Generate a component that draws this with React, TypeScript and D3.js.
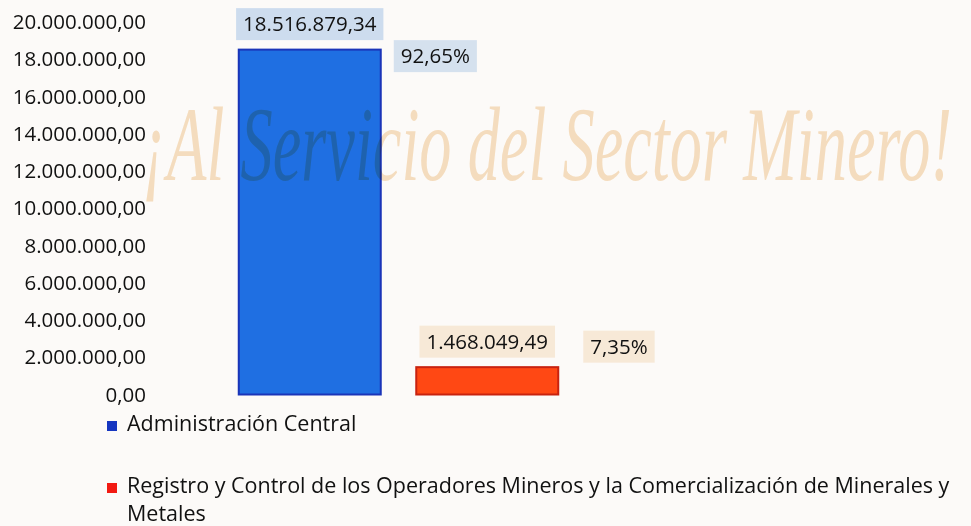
import React, { useEffect, useRef } from 'react';
import * as d3 from 'd3';

// datos del gráfico
const seriesNames = ['Administración Central', 'Registro y Control de los Operadores Mineros y la Comercialización de Minerales y Metales'];
const legendLines = [
    ['Administración Central'],
    ['Registro y Control de los Operadores Mineros y la Comercialización de Minerales y', 'Metales']
];
const values = [18516879.34, 1468049.49];
const barFills = ['#1f6fe2', '#ff4814'];
const barStrokes = ['#1a34b8', '#c8220f'];
const legendFills = ['#1636c0', '#f21a12'];
const labelFills = ['#cddcee', '#f7e9d7'];
const pctFills = ['#d5e1ee', '#f7e9d7'];
const watermarkText = '¡Al Servicio del Sector Minero!';

const locale = d3.formatLocale({ decimal: ',', thousands: '.', grouping: [3], currency: ['', ''] });
const fmtValue = locale.format(',.2f');
const fmtPct = locale.format('.2%');

const App = () => {
    const svgRef = useRef<SVGSVGElement>(null);

    useEffect(() => {
        const svg = d3.select(svgRef.current);
        const width = 971;
        const height = 526;
        svg.selectAll('*').remove();

        svg.append('rect').attr('width', width).attr('height', height).attr('fill', '#fcfaf8');

        const x = d3.scaleBand()
            .domain(seriesNames)
            .range([221, 576])
            .paddingInner(0.2)
            .paddingOuter(0.1);

        const y = d3.scaleLinear()
            .domain([0, 20000000])
            .range([394.5, 22]);

        const font = "'Open Sans', sans-serif";

        // eje y (solo etiquetas)
        svg.append('g')
            .selectAll('text')
            .data(y.ticks(10))
            .join('text')
            .attr('x', 146)
            .attr('y', d => y(d))
            .attr('dy', '0.35em')
            .attr('text-anchor', 'end')
            .attr('font-family', font)
            .attr('font-size', 20.5)
            .attr('fill', '#111')
            .text(d => fmtValue(d));

        // barras
        svg.append('g')
            .selectAll('rect')
            .data(values)
            .join('rect')
            .attr('x', (d, i) => x(seriesNames[i])!)
            .attr('y', d => y(d))
            .attr('width', x.bandwidth())
            .attr('height', d => y(0) - y(d))
            .attr('fill', (d, i) => barFills[i])
            .attr('stroke', (d, i) => barStrokes[i])
            .attr('stroke-width', 2);

        // marca de agua (comprimida en horizontal)
        const wm = svg.append('text')
            .attr('font-family', "'Liberation Serif', serif")
            .attr('font-style', 'italic')
            .attr('font-size', 106)
            .attr('fill', '#f0c489')
            .attr('opacity', 0.5)
            .style('mix-blend-mode', 'multiply')
            .text(watermarkText);
        const wmW = (wm.node() as SVGTextElement).getComputedTextLength();
        wm.attr('transform', `translate(142,180) scale(${810 / wmW},1)`);

        const total = d3.sum(values);
        const pctOffsets = [{ dx: 13, dy: 6.5 }, { dx: 25, dy: -20.5 }];

        // etiquetas con caja
        const addBoxLabel = (cx: number, cy: number, txt: string, fill: string, anchorLeft: boolean) => {
            const g = svg.append('g');
            const t = g.append('text')
                .attr('font-family', font)
                .attr('font-size', 20.5)
                .attr('fill', '#111')
                .attr('dy', '0.35em')
                .attr('y', cy)
                .text(txt);
            const w = (t.node() as SVGTextElement).getComputedTextLength();
            const padX = 7;
            const left = anchorLeft ? cx : cx - w / 2 - padX;
            t.attr('x', left + padX);
            g.insert('rect', 'text')
                .attr('x', left)
                .attr('y', cy - 16)
                .attr('width', w + padX * 2)
                .attr('height', 32)
                .attr('fill', fill);
        };

        values.forEach((v, i) => {
            const bx = x(seriesNames[i])!;
            const top = y(v);
            addBoxLabel(bx + x.bandwidth() / 2, top - 25.5, fmtValue(v), labelFills[i], false);
            addBoxLabel(bx + x.bandwidth() + pctOffsets[i].dx, top + pctOffsets[i].dy, fmtPct(v / total), pctFills[i], true);
        });

        // leyenda
        const legendY = [421, 483];
        const legend = svg.append('g');
        legendLines.forEach((lines, i) => {
            legend.append('rect')
                .attr('x', 107)
                .attr('y', legendY[i])
                .attr('width', 10)
                .attr('height', 10)
                .attr('fill', legendFills[i]);
            lines.forEach((ln, j) => {
                legend.append('text')
                    .attr('x', 127)
                    .attr('y', legendY[i] + 10 + j * 28)
                    .attr('font-family', font)
                    .attr('font-size', 21.5)
                    .attr('fill', '#111')
                    .text(ln);
            });
        });
    }, []);

    return <svg ref={svgRef} width={971} height={526} style={{ position: 'absolute', left: 0, top: 0 }}></svg>;
};

export default App;
